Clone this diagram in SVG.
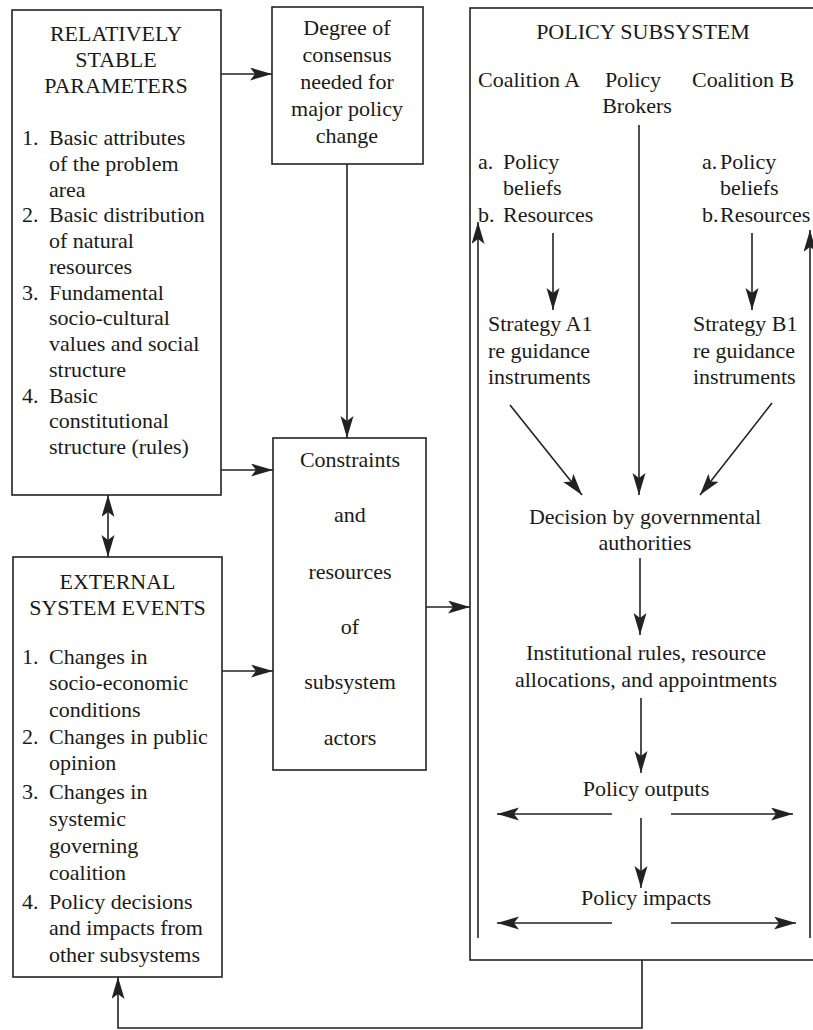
<svg xmlns="http://www.w3.org/2000/svg" width="813" height="1030" viewBox="0 0 813 1030">
<defs>
<marker id="ah" markerUnits="userSpaceOnUse" markerWidth="24" markerHeight="14" refX="22" refY="6.5" orient="auto-start-reverse">
<path d="M0,0 L22,6.5 L0,13 L5,6.5 z" fill="#222"/>
</marker>
<style>
text{font-family:'Liberation Serif','DejaVu Serif',serif;font-size:22px;fill:#1a1a1a}
.c{text-anchor:middle}
.box{fill:#fff;stroke:#222;stroke-width:1.6}
.ln{fill:none;stroke:#222;stroke-width:1.6}
.ar{fill:none;stroke:#222;stroke-width:1.6;marker-end:url(#ah)}
.ar2{fill:none;stroke:#222;stroke-width:1.6;marker-end:url(#ah);marker-start:url(#ah)}
</style>
</defs>
<rect width="813" height="1030" fill="#fff"/>

<g font-family="Liberation Serif, DejaVu Serif, serif">
<g id="stable-parameters">
<rect class="box" x="12" y="10" width="209" height="485"/>
<text class="c" x="116" y="41">RELATIVELY</text>
<text class="c" x="116" y="67">STABLE</text>
<text class="c" x="116" y="93">PARAMETERS</text>
<text x="22" y="145">1.</text><text x="49" y="145">Basic attributes</text>
<text x="49" y="171">of the problem</text>
<text x="49" y="197">area</text>
<text x="22" y="222">2.</text><text x="49" y="222">Basic distribution</text>
<text x="49" y="248">of natural</text>
<text x="49" y="274">resources</text>
<text x="22" y="300">3.</text><text x="49" y="300">Fundamental</text>
<text x="49" y="325">socio-cultural</text>
<text x="49" y="351">values and social</text>
<text x="49" y="377">structure</text>
<text x="22" y="403">4.</text><text x="49" y="403">Basic</text>
<text x="49" y="428">constitutional</text>
<text x="49" y="454">structure (rules)</text>
</g>

<g id="external-events">
<rect class="box" x="13" y="557" width="209" height="420"/>
<text class="c" x="117.5" y="589">EXTERNAL</text>
<text class="c" x="117.5" y="615">SYSTEM EVENTS</text>
<text x="22" y="664">1.</text><text x="49" y="664">Changes in</text>
<text x="49" y="690">socio-economic</text>
<text x="49" y="717">conditions</text>
<text x="22" y="744">2.</text><text x="49" y="744">Changes in public</text>
<text x="49" y="770">opinion</text>
<text x="22" y="799">3.</text><text x="49" y="799">Changes in</text>
<text x="49" y="826">systemic</text>
<text x="49" y="853">governing</text>
<text x="49" y="880">coalition</text>
<text x="22" y="909">4.</text><text x="49" y="909">Policy decisions</text>
<text x="49" y="935">and impacts from</text>
<text x="49" y="962">other subsystems</text>
</g>

<g id="degree-consensus">
<rect class="box" x="272" y="7" width="151" height="157"/>
<text class="c" x="347" y="35">Degree of</text>
<text class="c" x="347" y="62">consensus</text>
<text class="c" x="347" y="89">needed for</text>
<text class="c" x="347" y="116">major policy</text>
<text class="c" x="347" y="143">change</text>
</g>

<g id="constraints">
<rect class="box" x="273" y="438" width="153" height="332"/>
<text class="c" x="350" y="467">Constraints</text>
<text class="c" x="350" y="522">and</text>
<text class="c" x="350" y="579">resources</text>
<text class="c" x="350" y="634">of</text>
<text class="c" x="350" y="689">subsystem</text>
<text class="c" x="350" y="745">actors</text>
</g>

<g id="policy-subsystem">
<rect class="box" x="470" y="8" width="350" height="952"/>
<text class="c" x="643" y="39">POLICY SUBSYSTEM</text>
<text x="478" y="87">Coalition A</text>
<text class="c" x="633" y="87">Policy</text>
<text class="c" x="637" y="113">Brokers</text>
<text x="692" y="87">Coalition B</text>
<text x="478" y="169">a.</text><text x="503" y="169">Policy</text>
<text x="503" y="195">beliefs</text>
<text x="478" y="222">b.</text><text x="503" y="222">Resources</text>
<text x="702" y="169">a.</text><text x="720" y="169">Policy</text>
<text x="720" y="195">beliefs</text>
<text x="702" y="222">b.</text><text x="720" y="222">Resources</text>
<text x="488" y="331">Strategy A1</text>
<text x="488" y="358">re guidance</text>
<text x="488" y="384">instruments</text>
<text x="693" y="331">Strategy B1</text>
<text x="693" y="358">re guidance</text>
<text x="693" y="384">instruments</text>
<text class="c" x="645" y="524">Decision by governmental</text>
<text class="c" x="645" y="550">authorities</text>
<text class="c" x="646" y="660">Institutional rules, resource</text>
<text class="c" x="646" y="687">allocations, and appointments</text>
<text class="c" x="646" y="796">Policy outputs</text>
<text class="c" x="646" y="905">Policy impacts</text>
</g>
</g>

<g id="connectors">
<path class="ar" d="M221,74 H272"/>
<path class="ar" d="M347,164 V438"/>
<path class="ar" d="M221,470 H273"/>
<path class="ar" d="M222,671 H273"/>
<path class="ar2" d="M108,495 V557"/>
<path class="ar" d="M426,607 H470"/>
<path class="ar" d="M642,960 V1028 H118 V977"/>
<path class="ar" d="M478,938 V222"/>
<path class="ar" d="M810,938 V230"/>
<path class="ar" d="M553,233 V310"/>
<path class="ar" d="M752,233 V310"/>
<path class="ar" d="M639,125 V495"/>
<path class="ar" d="M510,405 L582,495"/>
<path class="ar" d="M772,403 L700,495"/>
<path class="ar" d="M640,558 V635"/>
<path class="ar" d="M641,698 V773"/>
<path class="ar" d="M612,814 H497"/>
<path class="ar" d="M671,814 H793"/>
<path class="ar" d="M641,818 V888"/>
<path class="ar" d="M612,923 H497"/>
<path class="ar" d="M671,923 H796"/>
</g>
</svg>
